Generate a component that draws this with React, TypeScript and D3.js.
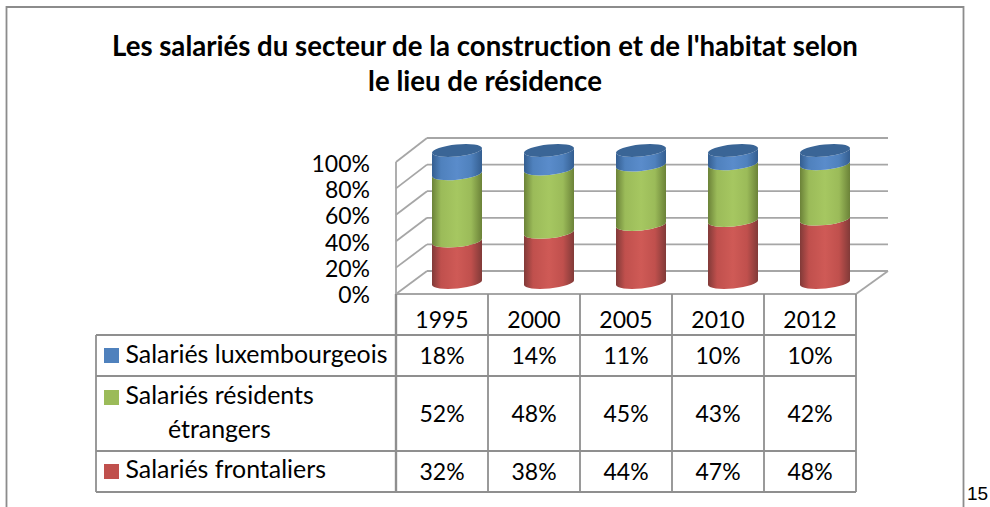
import React from "react";
import * as d3 from "d3";

const years = ["1995", "2000", "2005", "2010", "2012"];
const frontaliers = [32, 38, 44, 47, 48];
const residents = [52, 48, 45, 43, 42];
const luxembourgeois = [18, 14, 11, 10, 10];
const yTicks = [0, 0.2, 0.4, 0.6, 0.8, 1];
const titleLines = [
  "Les salariés du secteur de la construction et de l'habitat selon",
  "le lieu de résidence",
];
const palette = {
  lux: ["#345e90", "#4f81bd", "#5a8ccb"],
  res: ["#6b8238", "#9bbb59", "#a6c761"],
  fro: ["#813a38", "#c0504d", "#cf5a56"],
};

const W = 990;
const H = 507;
const font = "Lato, Carlito, sans-serif";
const grid = "#a6a6a6";
const tableLine = "#8f8f8f";

const xCol = d3.scaleBand<string>().domain(years).range([396, 856]);
const yFront = d3.scaleLinear().domain([0, 1]).range([294, 162]);
const yBack = d3.scaleLinear().domain([0, 1]).range([271, 138]);
const yBar = d3.scaleLinear().domain([0, 1]).range([282.5, 150.5]);
const yLabel = d3.scaleLinear().domain([0, 1]).range([303, 172]);

const RX = 25;
const SLOPE = 2.5;
const RY = 6;
const ANGLE = (Math.atan2(-SLOPE, RX) * 180) / Math.PI;

function segment(cx: number, y0: number, y1: number) {
  const p = d3.path();
  const rx = Math.hypot(RX, SLOPE).toFixed(2);
  const arc = (sweep: number, x: number, y: number) =>
    `A${rx} ${RY} ${ANGLE.toFixed(2)} 0 ${sweep} ${x} ${y}`;
  p.moveTo(cx - RX, y1 + SLOPE);
  p.lineTo(cx - RX, y0 + SLOPE);
  return (
    p.toString() +
    arc(0, cx + RX, y0 - SLOPE) +
    `L${cx + RX} ${y1 - SLOPE}` +
    arc(1, cx - RX, y1 + SLOPE) +
    "Z"
  );
}

function Grad({ id, c }: { id: string; c: string[] }) {
  return (
    <linearGradient id={id} x1="0" x2="1" y1="0" y2="0">
      <stop offset="0" stopColor={c[0]} />
      <stop offset="0.18" stopColor={c[1]} />
      <stop offset="0.5" stopColor={c[2]} />
      <stop offset="0.78" stopColor={c[1]} />
      <stop offset="1" stopColor={c[0]} />
    </linearGradient>
  );
}

export default function App() {
  const rowTops = [335, 376, 451, 492];
  const columns = [
    { name: "lux", values: luxembourgeois },
    { name: "res", values: residents },
    { name: "fro", values: frontaliers },
  ];
  return (
    <svg
      width={W}
      height={H}
      viewBox={`0 0 ${W} ${H}`}
      style={{ position: "absolute", left: 0, top: 0, background: "#fff", fontVariantLigatures: "none" }}
      fontFamily={font}
    >
      <defs>
        <Grad id="g-lux" c={palette.lux} />
        <Grad id="g-res" c={palette.res} />
        <Grad id="g-fro" c={palette.fro} />
      </defs>

      {/* outer frame */}
      <path d="M6.5 507V7H963.5V507" fill="none" stroke="#8c8c8c" strokeWidth={1.8} />

      {/* title */}
      {titleLines.map((t, i) => (
        <text key={t} x={485} y={56 + i * 35} textAnchor="middle" fontWeight={700} fontSize={27.6} fill="#000">
          {t}
        </text>
      ))}

      {/* walls and floor */}
      {yTicks.map((t) => (
        <g key={t} stroke={grid} strokeWidth={1.8} fill="none">
          <line x1={396} y1={yFront(t)} x2={427} y2={yBack(t)} />
          <line x1={427} y1={yBack(t)} x2={888} y2={yBack(t)} />
        </g>
      ))}
      <line x1={396} y1={yFront(0)} x2={396} y2={yFront(1)} stroke={grid} strokeWidth={1.8} />
      <line x1={856} y1={294} x2={888} y2={271} stroke={grid} strokeWidth={1.8} />
      <line x1={396} y1={294} x2={856} y2={294} stroke={grid} strokeWidth={1.8} />

      {/* y labels */}
      {yTicks.map((t) => (
        <text key={t} x={370} y={yLabel(t)} textAnchor="end" fontSize={23} fill="#000">
          {d3.format(".0%")(t)}
        </text>
      ))}

      {/* cylinders */}
      {years.map((y, i) => {
        const cx = (xCol(y) as number) + xCol.bandwidth() / 2 + 15;
        const total = frontaliers[i] + residents[i] + luxembourgeois[i];
        const s1 = frontaliers[i] / total;
        const s2 = s1 + residents[i] / total;
        return (
          <g key={y}>
            <path d={segment(cx, yBar(0), yBar(s1))} fill="url(#g-fro)" />
            <path d={segment(cx, yBar(s1), yBar(s2))} fill="url(#g-res)" />
            <path d={segment(cx, yBar(s2), yBar(1))} fill="url(#g-lux)" />
            <ellipse
              cx={cx}
              cy={yBar(1)}
              rx={Math.hypot(RX, SLOPE)}
              ry={RY}
              transform={`rotate(${ANGLE} ${cx} ${yBar(1)})`}
              fill="#3a6596"
            />
          </g>
        );
      })}

      {/* data table */}
      <g stroke={tableLine} strokeWidth={1.8} fill="none">
        <line x1={96} y1={335} x2={856} y2={335} />
        <line x1={96} y1={376} x2={856} y2={376} />
        <line x1={96} y1={451} x2={856} y2={451} />
        <line x1={96} y1={492} x2={856} y2={492} />
        <line x1={96} y1={335} x2={96} y2={492} />
        <line x1={396} y1={294} x2={396} y2={492} strokeWidth={2.4} />
        {years.map((y) => {
          const x = (xCol(y) as number) + xCol.bandwidth();
          return <line key={y} x1={x} y1={294} x2={x} y2={492} />;
        })}
      </g>

      {years.map((y) => (
        <text key={y} x={(xCol(y) as number) + xCol.bandwidth() / 2} y={328} textAnchor="middle" fontSize={23} fill="#000">
          {y}
        </text>
      ))}

      {columns.map((c, r) =>
        c.values.map((v, i) => (
          <text
            key={c.name + years[i]}
            x={(xCol(years[i]) as number) + xCol.bandwidth() / 2}
            y={(rowTops[r] + rowTops[r + 1]) / 2 + 8}
            textAnchor="middle"
            fontSize={23}
            fill="#000"
          >
            {v}%
          </text>
        ))
      )}

      {/* legend keys */}
      <rect x={104} y={348} width={15} height={15} fill={palette.lux[1]} />
      <rect x={104} y={390} width={15} height={15} fill={palette.res[1]} />
      <rect x={104} y={464} width={15} height={15} fill={palette.fro[1]} />
      <text x={125.5} y={363} fontSize={24.9} fill="#000">Salariés luxembourgeois</text>
      <text x={125.5} y={404} fontSize={24.9} fill="#000">Salariés résidents</text>
      <text x={168} y={438} fontSize={24.9} fill="#000">étrangers</text>
      <text x={125.5} y={478} fontSize={24.9} fill="#000">Salariés frontaliers</text>

      <text x={967} y={500} fontFamily="Liberation Sans, Arial, sans-serif" fontSize={19} fill="#000">15</text>
    </svg>
  );
}
